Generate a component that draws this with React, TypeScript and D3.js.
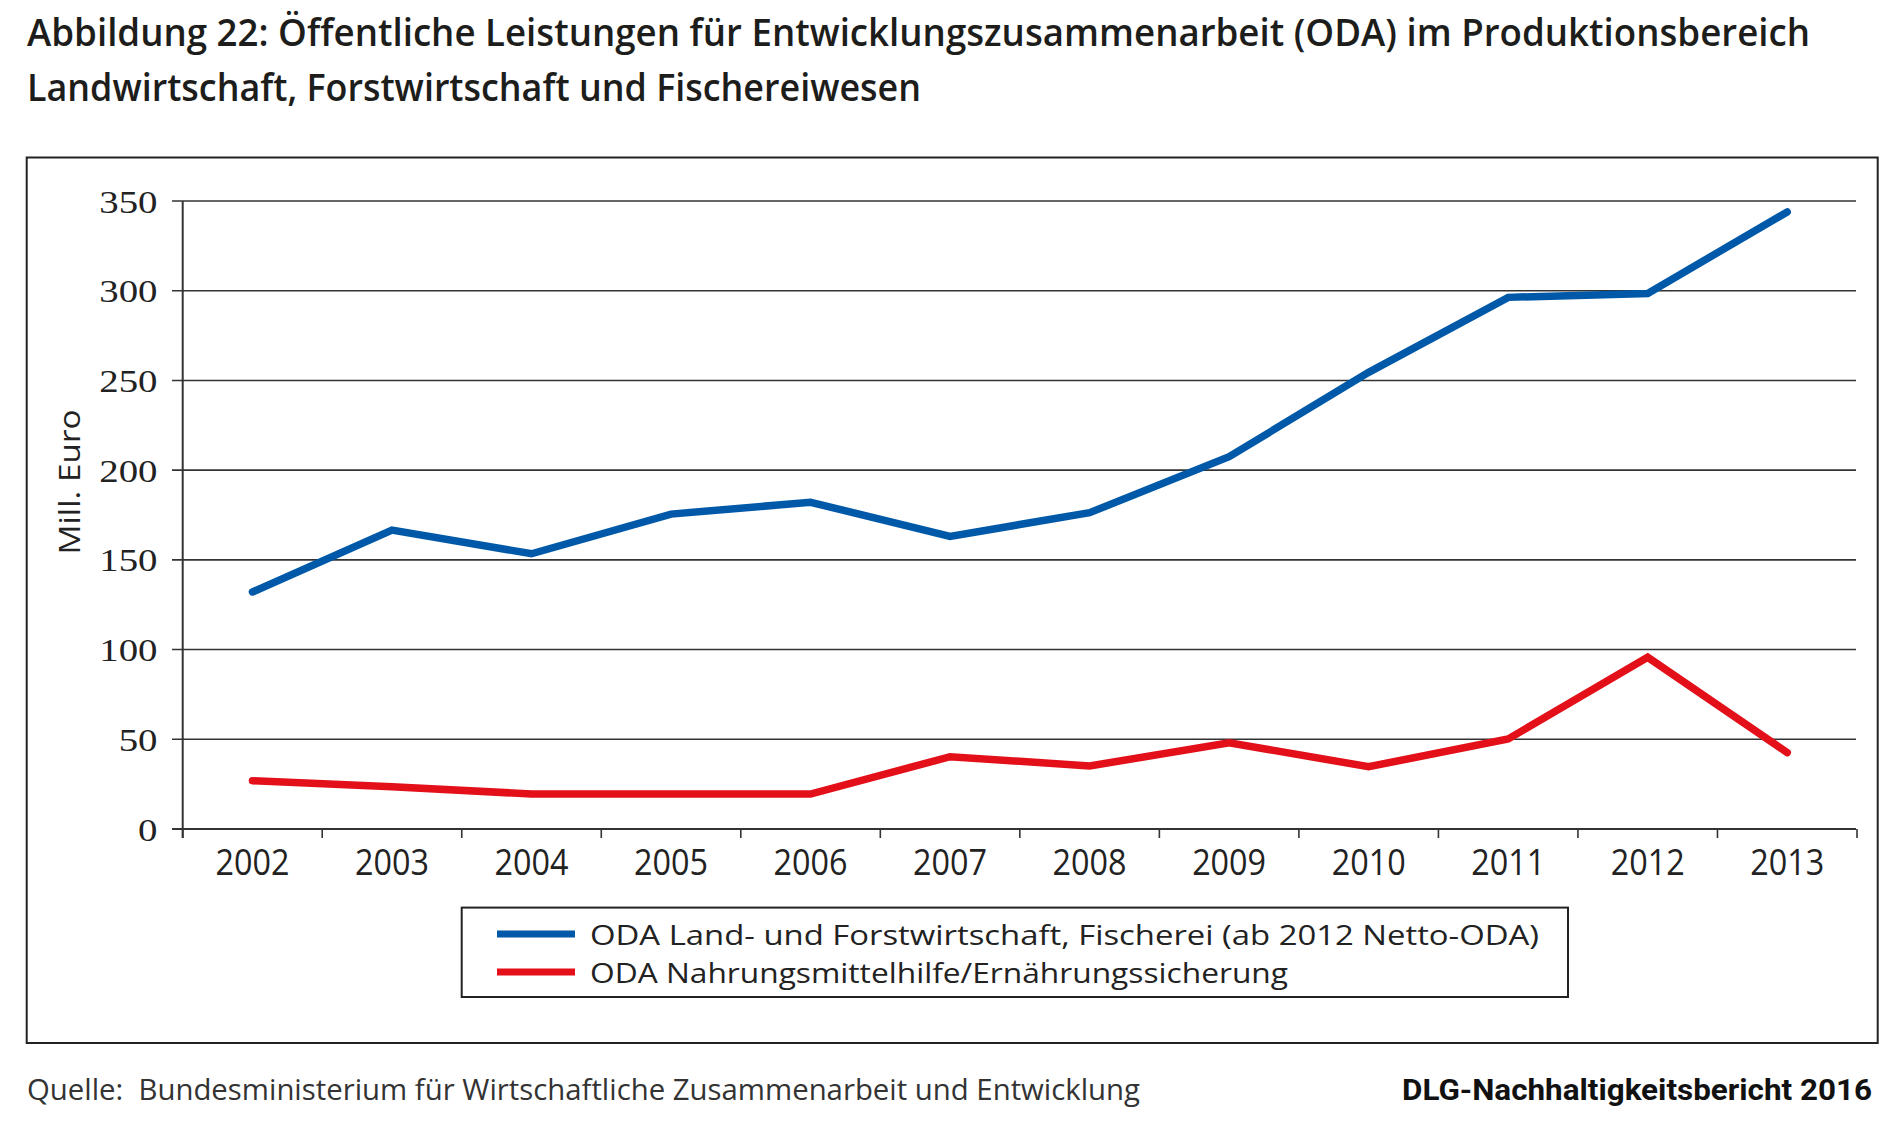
import React from "react";
import * as d3 from "d3";

const years = ["2002","2003","2004","2005","2006","2007","2008","2009","2010","2011","2012","2013"];
const odaAgri = [132.1, 166.6, 153.4, 175.5, 182.1, 163.1, 176.3, 207.5, 254.5, 296.3, 298.5, 343.9];
const odaFood = [26.9, 23.6, 19.5, 19.5, 19.5, 40.3, 35.1, 48.1, 34.7, 50.2, 95.7, 42.6];
const yTicks = [0, 50, 100, 150, 200, 250, 300, 350];
const seriesNames = [
  "ODA Land- und Forstwirtschaft, Fischerei (ab 2012 Netto-ODA)",
  "ODA Nahrungsmittelhilfe/Ernährungssicherung",
];
const seriesColors = ["#0059a8", "#e30f19"];
const titleLines = [
  "Abbildung 22: Öffentliche Leistungen für Entwicklungszusammenarbeit (ODA) im Produktionsbereich",
  "Landwirtschaft, Forstwirtschaft und Fischereiwesen",
];
const sourceText = "Quelle:  Bundesministerium für Wirtschaftliche Zusammenarbeit und Entwicklung";
const brandText = "DLG-Nachhaltigkeitsbericht 2016";
const yTitle = "Mill. Euro";

const W = 1900, H = 1126;
const sans = "'Open Sans', 'Noto Sans', sans-serif";

export default function App() {
  const x = d3.scaleBand<string>().domain(years).range([182.7, 1857]);
  const y = d3.scaleLinear().domain([0, 350]).range([829, 201]);
  const cx = (d: string) => (x(d) as number) + x.bandwidth() / 2;
  const line = d3.line<number>().x((_, i) => cx(years[i])).y((v) => y(v));
  const data = [odaAgri, odaFood];
  const boundaries = d3.range(years.length + 1).map((i) => 182.7 + i * x.step());

  return (
    <svg width={W} height={H} style={{ position: "absolute", left: 0, top: 0, background: "#fff" }}>
      <rect x={0} y={0} width={W} height={H} fill="#fff" />
      {/* Title */}
      <text x={27} y={46} fontFamily={sans} fontWeight={600} fontSize={38.5} fill="#1d1d1b"
        textLength={1783} lengthAdjust="spacingAndGlyphs">{titleLines[0]}</text>
      <text x={27} y={101} fontFamily={sans} fontWeight={600} fontSize={38.5} fill="#1d1d1b"
        textLength={894} lengthAdjust="spacingAndGlyphs">{titleLines[1]}</text>

      {/* Frame */}
      <rect x={26.7} y={157.5} width={1851} height={885.5} fill="none" stroke="#222" strokeWidth={2} />

      {/* Gridlines */}
      {yTicks.map((t) => (
        <line key={t} x1={172} x2={1856} y1={y(t)} y2={y(t)} stroke="#333" strokeWidth={t === 0 ? 2 : 1.6} />
      ))}
      {/* y axis */}
      <line x1={182.7} x2={182.7} y1={y(350)} y2={838} stroke="#333" strokeWidth={2} />
      {/* x ticks */}
      {boundaries.map((b, i) => (
        <line key={i} x1={b} x2={b} y1={829} y2={838} stroke="#333" strokeWidth={1.6} />
      ))}
      {/* y labels */}
      {yTicks.map((t) => (
        <text key={t} x={157.5} y={y(t)} dy="0.36em" textAnchor="end"
          fontFamily="'Liberation Serif', 'DejaVu Serif', serif" fontSize={32} fill="#222"
          textLength={String(t).length * 19.4} lengthAdjust="spacingAndGlyphs">{t}</text>
      ))}
      {/* x labels */}
      {years.map((yr) => (
        <text key={yr} x={cx(yr)} y={875} textAnchor="middle" fontFamily={sans} fontSize={36}
          fill="#222" textLength={74} lengthAdjust="spacingAndGlyphs">{yr}</text>
      ))}
      {/* y title */}
      <text transform="translate(80,482) rotate(-90)" textAnchor="middle" fontFamily={sans}
        fontSize={30} fill="#222" textLength={145} lengthAdjust="spacingAndGlyphs">{yTitle}</text>

      {/* Lines */}
      {data.map((s, i) => (
        <path key={i} d={line(s) as string} fill="none" stroke={seriesColors[i]} strokeWidth={7.5}
          strokeLinecap="round" strokeLinejoin="miter" />
      ))}

      {/* Legend */}
      <rect x={461.7} y={907.6} width={1106.3} height={89.4} fill="#fff" stroke="#222" strokeWidth={2} />
      {seriesNames.map((n, i) => {
        const ly = i === 0 ? 934 : 972;
        return (
          <g key={n}>
            <line x1={497} x2={575} y1={ly} y2={ly} stroke={seriesColors[i]} strokeWidth={7} />
            <text x={590} y={ly + 11} fontFamily={sans} fontSize={28} fill="#222"
              textLength={i === 0 ? 949 : 698} lengthAdjust="spacingAndGlyphs">{n}</text>
          </g>
        );
      })}

      {/* Footer */}
      <text x={27} y={1100} fontFamily={sans} fontSize={29} fill="#333" textLength={1113}
        lengthAdjust="spacingAndGlyphs" xmlSpace="preserve" style={{ whiteSpace: "pre" }}>{sourceText}</text>
      <text x={1872} y={1100} textAnchor="end" fontFamily="Roboto, 'Open Sans', sans-serif" fontWeight={700}
        fontSize={29} fill="#111" textLength={470} lengthAdjust="spacingAndGlyphs">{brandText}</text>
    </svg>
  );
}
